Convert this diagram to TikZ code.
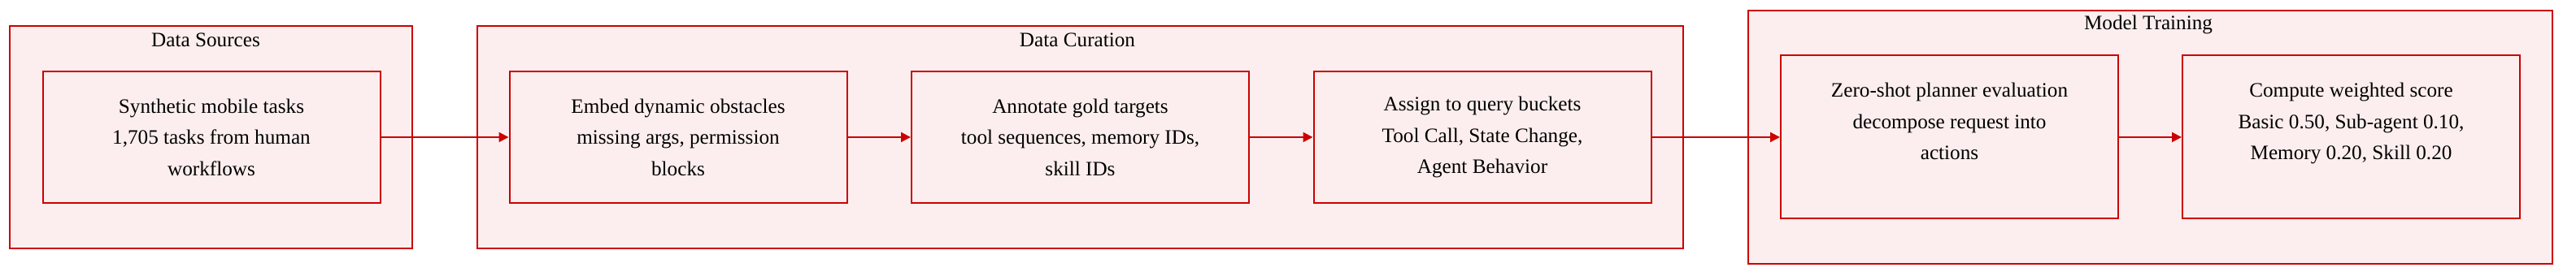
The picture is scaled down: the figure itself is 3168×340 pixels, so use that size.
\documentclass[tikz,border=0pt]{standalone}
\usepackage{fontspec}
\setmainfont{Liberation Serif}
\usepackage[svgnames]{xcolor}
\definecolor{PipeRed}{HTML}{CC0000}
\definecolor{PipeFill}{HTML}{FCEEEE}
\usepackage{tikz}
\usetikzlibrary{arrows.meta, positioning}

\begin{document}
\begin{tikzpicture}[x=0.5pt, y=-0.5pt,
    group/.style={draw=PipeRed, fill=PipeFill, line width=1pt, inner sep=0pt},
    stage/.style={draw=PipeRed, fill=PipeFill, line width=1pt, inner sep=0pt,
      align=center, font=\fontsize{12.6}{19.25}\selectfont,
      minimum width=207.5pt, minimum height=81pt},
    grouptitle/.style={font=\fontsize{12.6}{15}\selectfont, inner sep=0pt},
    flow/.style={-{Triangle[length=6pt, width=6pt]}, PipeRed, line width=1pt}]
  \useasboundingbox (0,0) rectangle (3168,340);

  % Outer groups
  \node[group, minimum width=247.5pt, minimum height=137pt] (sources) at (259.5,169) {};
  \node[grouptitle] (sourcesT) at (253,49) {Data Sources};
  \node[group, minimum width=741.5pt, minimum height=137pt] (curation) at (1328.5,169) {};
  \node[grouptitle] (curationT) at (1325,49) {Data Curation};
  \node[group, minimum width=494.5pt, minimum height=156pt] (training) at (2644.5,169) {};
  \node[grouptitle] (trainingT) at (2642,30) {Model Training};

  % Data Sources
  \node[stage] (synth) at (260,169)
    {Synthetic mobile tasks\\1,705 tasks from human\\workflows};

  % Data Curation
  \node[stage] (embed) at (834,169)
    {Embed dynamic obstacles\\missing args, permission\\blocks};
  \node[stage] (annot) at (1328.5,169)
    {Annotate gold targets\\tool sequences, memory IDs,\\skill IDs};
  \node[stage] (assign) at (1823,169)
    {Assign to query buckets\\Tool Call, State Change,\\Agent Behavior};

  % Model Training (text sits high: one blank line below)
  \node[stage, minimum height=100.5pt] (planner) at (2397.5,169)
    {Zero-shot planner evaluation\\decompose request into\\actions\\\mbox{}};
  \node[stage, minimum height=100.5pt] (score) at (2891.5,169)
    {Compute weighted score\\Basic 0.50, Sub-agent 0.10,\\Memory 0.20, Skill 0.20\\\mbox{}};

  % Flow
  \draw[flow] (synth) -- (embed);
  \draw[flow] (embed) -- (annot);
  \draw[flow] (annot) -- (assign);
  \draw[flow] (assign) -- (planner);
  \draw[flow] (planner) -- (score);
\end{tikzpicture}
\end{document}
